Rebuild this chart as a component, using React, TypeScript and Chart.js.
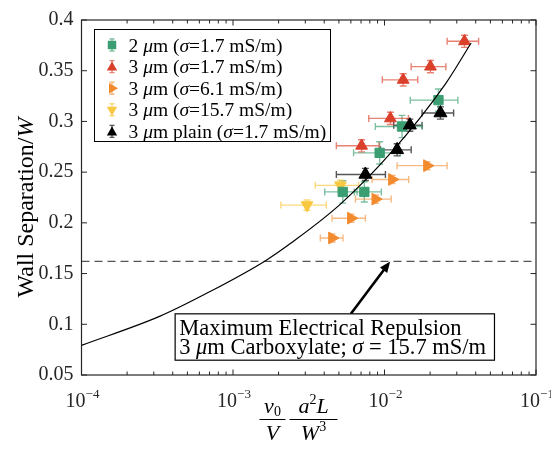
import React, { useEffect, useRef } from 'react';
import { Chart, registerables } from 'chart.js';
Chart.register(...registerables);

const SERIF = '"Liberation Serif", "Times New Roman", serif';

// ---------- axes ----------
const X_MIN = 1e-4;
const X_MAX = 0.1;
const Y_MIN = 0.05;
const Y_MAX = 0.4;
const xTickValues = [1e-4, 1e-3, 1e-2, 1e-1];
const xTickExponents = ['\u22124', '\u22123', '\u22122', '\u22121'];
const yTickValues = [0.05, 0.1, 0.15, 0.2, 0.25, 0.3, 0.35, 0.4];
const yTickLabels = ['0.05', '0.1', '0.15', '0.2', '0.25', '0.3', '0.35', '0.4'];

// ---------- series: 2 um, sigma = 1.7 mS/m (green squares) ----------
const greenX = [0.0227, 0.01305, 0.00929, 0.0053, 0.00736];
const greenY = [0.321, 0.295, 0.269, 0.2305, 0.2305];
const greenXLo = [0.0148, 0.0087, 0.00625, 0.00403, 0.00632];
const greenXHi = [0.0305, 0.0177, 0.0127, 0.00659, 0.00953];
const greenYErr = [0.011, 0.011, 0.011, 0.011, 0.010];

// ---------- 3 um, sigma = 1.7 mS/m (red triangles) ----------
const redX = [0.0337, 0.0201, 0.01328, 0.01094, 0.00706];
const redY = [0.379, 0.354, 0.341, 0.303, 0.276];
const redXLo = [0.0259, 0.0150, 0.00968, 0.00787, 0.00481];
const redXHi = [0.0418, 0.0254, 0.01656, 0.01439, 0.0092];
const redYErr = [0.006, 0.006, 0.006, 0.006, 0.006];

// ---------- 3 um, sigma = 6.1 mS/m (orange right triangles) ----------
const orangeX = [0.0191, 0.01122, 0.00871, 0.00601, 0.00451];
const orangeY = [0.2564, 0.2428, 0.2234, 0.2046, 0.1851];
const orangeXLo = [0.01211, 0.00828, 0.00643, 0.00451, 0.00377];
const orangeXHi = [0.0259, 0.01445, 0.01107, 0.00748, 0.00532];
const orangeYErr = [0.004, 0.004, 0.004, 0.004, 0.004];

// ---------- 3 um, sigma = 15.7 mS/m (yellow down triangles) ----------
const yellowX = [0.00512, 0.00308];
const yellowY = [0.237, 0.2175];
const yellowXLo = [0.00349, 0.00207];
const yellowXHi = [0.00675, 0.00413];
const yellowYErr = [0.005, 0.005];

// ---------- 3 um plain, sigma = 1.7 mS/m (black triangles) ----------
const blackX = [0.0234, 0.0147, 0.01211, 0.00748];
const blackY = [0.3083, 0.2963, 0.272, 0.2477];
const blackXLo = [0.0177, 0.0115, 0.0094, 0.00481];
const blackXHi = [0.0286, 0.0177, 0.0150, 0.01014];
const blackYErr = [0.006, 0.006, 0.006, 0.006];

// ---------- fitted curve ----------
const fitX = [1e-4, 3.3e-4, 7e-4, 0.00163, 0.00239, 0.00512, 0.01122, 0.0252, 0.0373];
const fitY = [0.0792, 0.108, 0.132, 0.1625, 0.1796, 0.2185, 0.2704, 0.3368, 0.3773];

// ---------- maximum repulsion line & annotation ----------
const repulsionY = 0.162;
const arrowFrom = { x: 0.0060, y: 0.1103 };
const arrowTo = { x: 0.0109, y: 0.162 };
const noteBox = { x0: 4.15e-4, x1: 0.0532, y0: 0.1103, y1: 0.0646 };

const COLORS = {
  green: '#3b9e72',
  greenBar: 'rgba(59,158,114,0.65)',
  red: '#da3f2a',
  redBar: 'rgba(218,63,42,0.65)',
  orange: '#f28a2e',
  orangeBar: 'rgba(242,138,46,0.6)',
  yellow: '#f8c840',
  yellowBar: 'rgba(248,200,64,0.7)',
  black: '#000000',
  blackBar: 'rgba(30,30,30,0.75)',
  axis: '#262626',
};

type Seg = { t: string; italic?: boolean; size?: number; dy?: number };

function segFont(s: Seg, base: number) {
  return `${s.italic ? 'italic ' : ''}${s.size ?? base}px ${SERIF}`;
}
function measureRich(ctx: CanvasRenderingContext2D, segs: Seg[], base: number) {
  let w = 0;
  for (const s of segs) {
    ctx.font = segFont(s, base);
    w += ctx.measureText(s.t).width;
  }
  return w;
}
function drawRich(ctx: CanvasRenderingContext2D, segs: Seg[], x: number, y: number, base: number, align: 'left' | 'center' = 'left') {
  const total = measureRich(ctx, segs, base);
  let cx = align === 'center' ? x - total / 2 : x;
  ctx.textAlign = 'left';
  ctx.textBaseline = 'alphabetic';
  for (const s of segs) {
    ctx.font = segFont(s, base);
    ctx.fillText(s.t, cx, y + (s.dy ?? 0));
    cx += ctx.measureText(s.t).width;
  }
  return total;
}

const mu: Seg = { t: '\u03bc', italic: true };
const sig: Seg = { t: '\u03c3', italic: true };
const legendRows: { seg: Seg[]; color: string; bar: string; style: string; rot: number }[] = [
  { seg: [{ t: '2 ' }, mu, { t: 'm (' }, sig, { t: '=1.7 mS/m)' }], color: COLORS.green, bar: COLORS.greenBar, style: 'rect', rot: 0 },
  { seg: [{ t: '3 ' }, mu, { t: 'm (' }, sig, { t: '=1.7 mS/m)' }], color: COLORS.red, bar: COLORS.redBar, style: 'triangle', rot: 0 },
  { seg: [{ t: '3 ' }, mu, { t: 'm (' }, sig, { t: '=6.1 mS/m)' }], color: COLORS.orange, bar: COLORS.orangeBar, style: 'triangle', rot: 90 },
  { seg: [{ t: '3 ' }, mu, { t: 'm (' }, sig, { t: '=15.7 mS/m)' }], color: COLORS.yellow, bar: COLORS.yellowBar, style: 'triangle', rot: 180 },
  { seg: [{ t: '3 ' }, mu, { t: 'm plain (' }, sig, { t: '=1.7 mS/m)' }], color: COLORS.black, bar: COLORS.blackBar, style: 'triangle', rot: 0 },
];

function drawMarker(ctx: CanvasRenderingContext2D, style: string, x: number, y: number, r: number, rot: number, color: string) {
  ctx.save();
  ctx.fillStyle = color;
  ctx.beginPath();
  if (style === 'rect') {
    const s = r * Math.SQRT1_2;
    ctx.rect(x - s, y - s, 2 * s, 2 * s);
  } else {
    let a = (rot * Math.PI) / 180;
    ctx.moveTo(x + Math.sin(a) * r, y - Math.cos(a) * r);
    a += (2 * Math.PI) / 3;
    ctx.lineTo(x + Math.sin(a) * r, y - Math.cos(a) * r);
    a += (2 * Math.PI) / 3;
    ctx.lineTo(x + Math.sin(a) * r, y - Math.cos(a) * r);
    ctx.closePath();
  }
  ctx.fill();
  ctx.restore();
}

const overlay = {
  id: 'overlay',
  beforeDatasetsDraw(chart: any) {
    const ctx: CanvasRenderingContext2D = chart.ctx;
    const xs = chart.scales.x;
    const ys = chart.scales.y;
    ctx.save();
    chart.data.datasets.forEach((ds: any) => {
      if (!ds.xLo) return;
      ctx.strokeStyle = ds.barColor;
      ctx.lineWidth = 1.4;
      ds.data.forEach((p: any, i: number) => {
        const px = xs.getPixelForValue(p.x);
        const py = ys.getPixelForValue(p.y);
        const xl = xs.getPixelForValue(ds.xLo[i]);
        const xh = xs.getPixelForValue(ds.xHi[i]);
        const yt = ys.getPixelForValue(p.y + ds.yErr[i]);
        const yb = ys.getPixelForValue(p.y - ds.yErr[i]);
        const c = 3.5;
        ctx.beginPath();
        ctx.moveTo(xl, py); ctx.lineTo(xh, py);
        ctx.moveTo(xl, py - c); ctx.lineTo(xl, py + c);
        ctx.moveTo(xh, py - c); ctx.lineTo(xh, py + c);
        ctx.moveTo(px, yt); ctx.lineTo(px, yb);
        ctx.moveTo(px - c, yt); ctx.lineTo(px + c, yt);
        ctx.moveTo(px - c, yb); ctx.lineTo(px + c, yb);
        ctx.stroke();
      });
    });
    ctx.restore();
  },
  afterDatasetsDraw(chart: any) {
    const ctx: CanvasRenderingContext2D = chart.ctx;
    const xs = chart.scales.x;
    const ys = chart.scales.y;
    const a = chart.chartArea;
    ctx.save();

    // box + ticks
    ctx.strokeStyle = COLORS.axis;
    ctx.lineWidth = 1.2;
    ctx.strokeRect(a.left, a.top, a.right - a.left, a.bottom - a.top);
    ctx.lineWidth = 1;
    ctx.beginPath();
    const major = 5.5;
    const minor = 3.5;
    yTickValues.forEach((v) => {
      const py = ys.getPixelForValue(v);
      ctx.moveTo(a.left, py); ctx.lineTo(a.left + major, py);
      ctx.moveTo(a.right, py); ctx.lineTo(a.right - major, py);
    });
    xTickValues.forEach((v, i) => {
      const px = xs.getPixelForValue(v);
      ctx.moveTo(px, a.bottom); ctx.lineTo(px, a.bottom - major);
      ctx.moveTo(px, a.top); ctx.lineTo(px, a.top + major);
      if (i < xTickValues.length - 1) {
        for (let k = 2; k <= 9; k++) {
          const mx = xs.getPixelForValue(v * k);
          ctx.moveTo(mx, a.bottom); ctx.lineTo(mx, a.bottom - minor);
          ctx.moveTo(mx, a.top); ctx.lineTo(mx, a.top + minor);
        }
      }
    });
    ctx.stroke();

    // x tick labels 10^n
    ctx.fillStyle = COLORS.axis;
    xTickValues.forEach((v, i) => {
      const px = xs.getPixelForValue(v);
      const segs: Seg[] = [{ t: '10' }, { t: xTickExponents[i], size: 13, dy: -9 }];
      drawRich(ctx, segs, px + 1, a.bottom + 32, 20, 'center');
    });

    // y title
    ctx.save();
    ctx.translate(25, (a.top + a.bottom) / 2 + 10);
    ctx.rotate(-Math.PI / 2);
    ctx.fillStyle = '#000';
    drawRich(ctx, [{ t: 'Wall Separation/' }, { t: 'W', italic: true }], 0, 8, 24, 'center');
    ctx.restore();

    // x title: (v0 / V) (a^2 L / W^3)
    ctx.fillStyle = '#000';
    const barY = a.bottom + 44;
    const f1 = a.left + 191;
    const f2 = a.left + 232;
    drawRich(ctx, [{ t: 'v', italic: true }, { t: '0', size: 14, dy: 3 }], f1, barY - 6, 22, 'center');
    drawRich(ctx, [{ t: 'V', italic: true }], f1, barY + 21, 22, 'center');
    drawRich(ctx, [{ t: 'a', italic: true }, { t: '2', size: 14, dy: -9 }, { t: 'L', italic: true }], f2, barY - 6, 22, 'center');
    drawRich(ctx, [{ t: 'W', italic: true }, { t: '3', size: 14, dy: -9 }], f2, barY + 21, 22, 'center');
    ctx.lineWidth = 1;
    ctx.strokeStyle = '#000';
    ctx.beginPath();
    ctx.moveTo(f1 - 13, barY + 0.5); ctx.lineTo(f1 + 13, barY + 0.5);
    ctx.moveTo(f2 - 24, barY + 0.5); ctx.lineTo(f2 + 24, barY + 0.5);
    ctx.stroke();

    // annotation arrow
    const ax0 = xs.getPixelForValue(arrowFrom.x);
    const ay0 = ys.getPixelForValue(arrowFrom.y);
    const ax1 = xs.getPixelForValue(arrowTo.x);
    const ay1 = ys.getPixelForValue(arrowTo.y);
    const ang = Math.atan2(ay1 - ay0, ax1 - ax0);
    const hl = 11;
    const hw = 4.5;
    ctx.strokeStyle = '#000';
    ctx.fillStyle = '#000';
    ctx.lineWidth = 2.6;
    ctx.beginPath();
    ctx.moveTo(ax0, ay0);
    ctx.lineTo(ax1 - Math.cos(ang) * hl * 0.8, ay1 - Math.sin(ang) * hl * 0.8);
    ctx.stroke();
    ctx.beginPath();
    ctx.moveTo(ax1, ay1);
    ctx.lineTo(ax1 - Math.cos(ang) * hl - Math.sin(ang) * hw, ay1 - Math.sin(ang) * hl + Math.cos(ang) * hw);
    ctx.lineTo(ax1 - Math.cos(ang) * hl + Math.sin(ang) * hw, ay1 - Math.sin(ang) * hl - Math.cos(ang) * hw);
    ctx.closePath();
    ctx.fill();

    // annotation box
    const bx0 = xs.getPixelForValue(noteBox.x0);
    const bx1 = xs.getPixelForValue(noteBox.x1);
    const by0 = ys.getPixelForValue(noteBox.y0);
    const by1 = ys.getPixelForValue(noteBox.y1);
    ctx.fillStyle = '#fff';
    ctx.fillRect(bx0, by0, bx1 - bx0, by1 - by0);
    ctx.strokeStyle = '#000';
    ctx.lineWidth = 1.2;
    ctx.strokeRect(bx0, by0, bx1 - bx0, by1 - by0);
    ctx.fillStyle = '#000';
    drawRich(ctx, [{ t: 'Maximum Electrical Repulsion' }], bx0 + 4, by0 + 21, 22.5);
    drawRich(ctx, [{ t: '3 ' }, mu, { t: 'm Carboxylate; ' }, sig, { t: ' = 15.7 mS/m' }], bx0 + 4, by0 + 40, 22.5);

    // legend
    const lx = a.left + 13;
    const ly = a.top + 9.5;
    const lw = 236;
    const lh = 112;
    ctx.fillStyle = '#fff';
    ctx.fillRect(lx, ly, lw, lh);
    ctx.strokeStyle = '#000';
    ctx.lineWidth = 1;
    ctx.strokeRect(lx, ly, lw, lh);
    legendRows.forEach((row, i) => {
      const cy = ly + 15.5 + i * 21.6;
      const mx = lx + 17.5;
      ctx.strokeStyle = row.bar;
      ctx.lineWidth = 1.4;
      ctx.beginPath();
      ctx.moveTo(mx, cy - 6); ctx.lineTo(mx, cy + 6);
      ctx.moveTo(mx - 2.5, cy - 6); ctx.lineTo(mx + 2.5, cy - 6);
      ctx.moveTo(mx - 2.5, cy + 6); ctx.lineTo(mx + 2.5, cy + 6);
      ctx.stroke();
      drawMarker(ctx, row.style, mx, cy + (row.style === 'triangle' && row.rot === 0 ? 1 : 0), 6, row.rot, row.color);
      ctx.fillStyle = '#000';
      drawRich(ctx, row.seg, lx + 34, cy + 6.5, 19.5);
    });

    ctx.restore();
  },
};

const pts = (xs: number[], ys: number[]) => xs.map((x, i) => ({ x, y: ys[i] }));

export default function App() {
  const ref = useRef<HTMLCanvasElement>(null);
  useEffect(() => {
    document.body.style.margin = '0';
    const marker = (label: string, xs: number[], ys: number[], lo: number[], hi: number[], ye: number[], color: string, bar: string, style: string, rot: number, r: number, order: number) => ({
      type: 'scatter',
      label,
      data: pts(xs, ys),
      xLo: lo,
      xHi: hi,
      yErr: ye,
      barColor: bar,
      backgroundColor: color,
      borderColor: color,
      borderWidth: 1,
      pointStyle: style,
      pointRotation: rot,
      pointRadius: r,
      pointHoverRadius: r,
      order,
    });
    const chart = new Chart(ref.current as HTMLCanvasElement, {
      type: 'scatter',
      data: {
        datasets: [
          {
            type: 'line',
            label: 'fit',
            data: pts(fitX, fitY),
            borderColor: '#000',
            borderWidth: 1.2,
            pointRadius: 0,
            cubicInterpolationMode: 'monotone',
            fill: false,
            order: 0,
          } as any,
          marker('3 um plain (sigma=1.7 mS/m)', blackX, blackY, blackXLo, blackXHi, blackYErr, COLORS.black, COLORS.blackBar, 'triangle', 0, 7.5, 1),
          marker('2 um (sigma=1.7 mS/m)', greenX, greenY, greenXLo, greenXHi, greenYErr, COLORS.green, COLORS.greenBar, 'rect', 0, 6.6, 2),
          marker('3 um (sigma=1.7 mS/m)', redX, redY, redXLo, redXHi, redYErr, COLORS.red, COLORS.redBar, 'triangle', 0, 6.8, 3),
          marker('3 um (sigma=6.1 mS/m)', orangeX, orangeY, orangeXLo, orangeXHi, orangeYErr, COLORS.orange, COLORS.orangeBar, 'triangle', 90, 6.8, 4),
          marker('3 um (sigma=15.7 mS/m)', yellowX, yellowY, yellowXLo, yellowXHi, yellowYErr, COLORS.yellow, COLORS.yellowBar, 'triangle', 180, 6.8, 5),
          {
            type: 'line',
            label: 'max repulsion',
            data: [{ x: X_MIN, y: repulsionY }, { x: X_MAX, y: repulsionY }],
            borderColor: '#555',
            borderWidth: 1.2,
            borderDash: [8, 5],
            pointRadius: 0,
            fill: false,
            order: 10,
          } as any,
        ] as any,
      },
      options: {
        animation: false,
        responsive: false,
        events: [],
        layout: { padding: { left: 0, top: 15, right: 15, bottom: 0 } },
        plugins: { legend: { display: false }, tooltip: { enabled: false } },
        scales: {
          x: {
            type: 'logarithmic',
            min: X_MIN,
            max: X_MAX,
            ticks: { display: false },
            grid: { display: false, drawTicks: false },
            border: { display: false },
            afterFit: (s: any) => { s.height = 89; },
          },
          y: {
            type: 'linear',
            min: Y_MIN,
            max: Y_MAX,
            afterBuildTicks: (s: any) => { s.ticks = yTickValues.map((v) => ({ value: v })); },
            ticks: {
              callback: (v: any) => { const i = yTickValues.findIndex((t) => Math.abs(t - v) < 1e-9); return i >= 0 ? yTickLabels[i] : ''; },
              font: { family: SERIF, size: 20 },
              color: COLORS.axis,
              padding: 8,
            },
            grid: { display: false, drawTicks: false },
            border: { display: false },
            afterFit: (s: any) => { s.width = 81.5; },
          },
        },
      } as any,
      plugins: [overlay],
    });
    return () => chart.destroy();
  }, []);
  return <canvas ref={ref} width={551} height={464} style={{ display: 'block' }} />;
}
